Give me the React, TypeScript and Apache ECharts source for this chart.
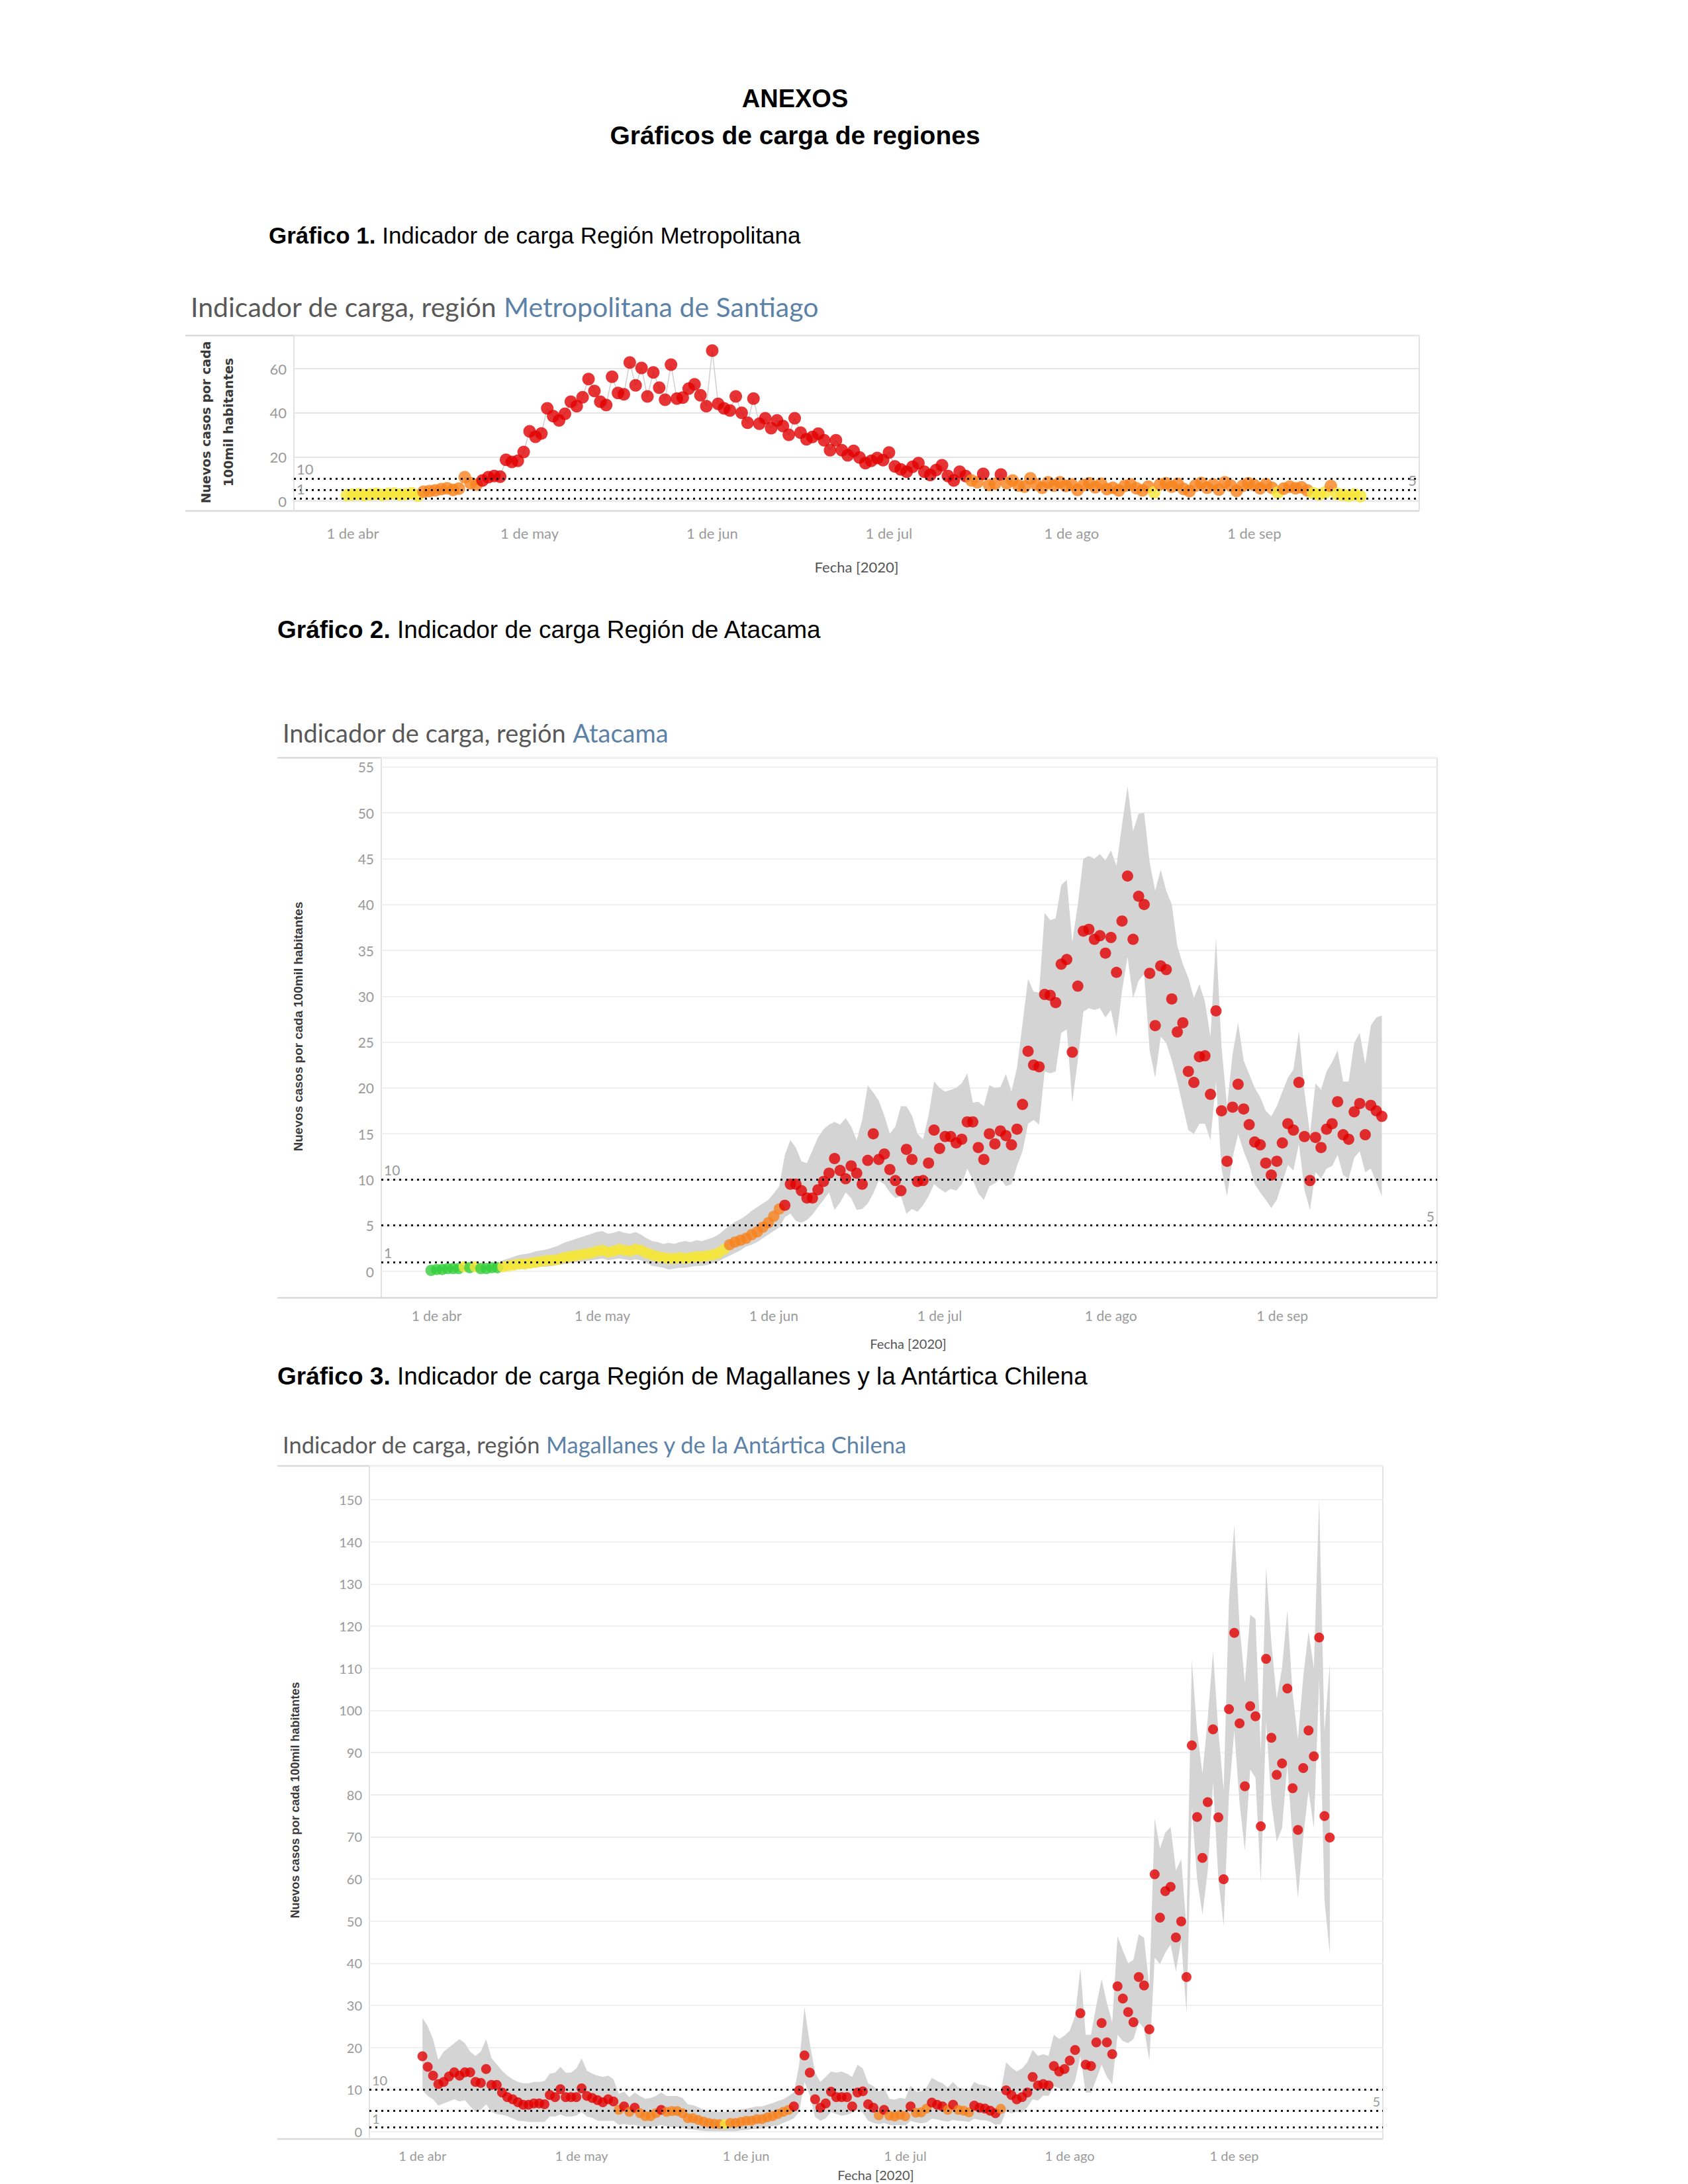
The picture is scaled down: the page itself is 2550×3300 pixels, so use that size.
import React, { useEffect, useRef } from 'react';
import * as echarts from 'echarts';

// ---------- axis categories (days 22 mar .. 29 sep 2020) ----------
const FIRST_DAY = Date.UTC(2020, 2, 22);
const N_DAYS = 192;
const categories: string[] = [];
for (let i = 0; i < N_DAYS; i++) {
  categories.push(new Date(FIRST_DAY + i * 86400000).toISOString().slice(0, 10));
}
const tickDates = ['2020-04-01', '2020-05-01', '2020-06-01', '2020-07-01', '2020-08-01', '2020-09-01'];
const tickLabels = ['1 de abr', '1 de may', '1 de jun', '1 de jul', '1 de ago', '1 de sep'];

// ---------- Gráfico 1: Región Metropolitana (from 31 mar) ----------
const rmStart = '2020-03-31';
const rmValues = [
  2.6, 2.9, 3.1, 2.7, 3.0, 3.3, 2.8, 3.2, 3.4, 2.9,
  3.1, 3.5, 2.4, 4.2, 4.5, 4.8, 5.4, 5.8, 5.0, 5.6,
  10.8, 8.0, 7.4, 9.3, 10.8, 11.3, 11.0, 18.7, 17.7, 18.2,
  22.2, 31.6, 29.1, 30.6, 42.0, 38.5, 36.5, 39.5, 45.0, 43.0,
  47.0, 55.3, 49.9, 45.0, 43.5, 56.3, 49.0, 48.4, 62.8, 52.4,
  60.3, 47.4, 58.3, 51.4, 45.9, 61.8, 46.4, 46.9, 50.9, 52.9,
  47.9, 43.0, 68.2, 44.0, 42.0, 41.0, 47.4, 40.0, 35.5, 46.4,
  35.0, 37.5, 33.0, 36.5, 34.0, 30.0, 37.5, 31.0, 28.0, 29.0,
  30.5, 27.5, 23.0, 27.5, 23.0, 20.7, 22.7, 19.7, 17.2, 18.2,
  19.5, 18.5, 22.0, 15.7, 14.3, 13.3, 15.5, 17.2, 13.3, 11.8,
  14.0, 16.2, 11.3, 9.3, 13.3, 11.3, 9.3, 8.5, 12.3, 7.3,
  7.8, 12.0, 8.0, 9.3, 7.0, 6.5, 10.3, 7.5, 6.0, 8.5,
  7.0, 8.5, 6.8, 7.5, 5.0, 7.2, 8.0, 6.2, 7.8, 5.4,
  6.0, 4.8, 6.8, 7.5, 5.8, 4.8, 6.5, 3.9, 7.5, 8.0,
  6.5, 7.8, 5.5, 4.5, 7.0, 8.2, 6.0, 7.5, 5.2, 8.5,
  7.0, 4.6, 6.8, 8.0, 7.2, 5.8, 7.6, 6.0, 3.8, 5.6,
  6.5, 5.8, 6.2, 4.8, 3.5, 3.0, 3.8, 6.8, 3.2, 2.8,
  2.4, 3.0, 2.2,
];
const rmLevels = [
  'YYYYYYYYYY', 'YYYOOOOOOO', 'OOORRRRRRR', 'RRRRRRRRRR', 'RRRRRRRRRR', 'RRRRRRRRRR',
  'RRRRRRRRRR', 'RRRRRRRRRR', 'RRRRRRRRRR', 'RRRRRRRRRR', 'RRRRRROORO', 'OROOOOOOOO',
  'OOOOOOOOOO', 'OOOOOOOYOO', 'OOOOOOOOOO', 'OOOOOOOOYO', 'OOOOYYYOYY', 'YYY',
].join('');

// ---------- Gráfico 2: Atacama (from 31 mar) ----------
const atStart = '2020-03-31';
const atValues = [
  0.1, 0.2, 0.2, 0.3, 0.3, 0.3, 0.5, 0.4, 0.5, 0.3,
  0.3, 0.4, 0.4, 0.5, 0.6, 0.7, 0.8, 0.8, 0.9, 1.0,
  1.1, 1.2, 1.2, 1.3, 1.5, 1.6, 1.7, 1.8, 1.9, 2.0,
  2.2, 2.3, 2.1, 2.2, 2.4, 2.3, 2.2, 2.4, 2.3, 2.0,
  1.8, 1.6, 1.5, 1.4, 1.4, 1.5, 1.4, 1.5, 1.6, 1.6,
  1.7, 1.8, 2.0, 2.4, 2.9, 3.2, 3.4, 3.6, 4.0, 4.3,
  4.8, 5.3, 6.0, 6.8, 7.2, 9.5, 9.5, 8.8, 8.0, 8.0,
  8.9, 9.8, 10.7, 12.3, 11.0, 10.1, 11.5, 10.7, 9.5, 12.1,
  15.0, 12.2, 12.8, 11.1, 9.9, 8.8, 13.3, 12.2, 9.8, 9.9,
  11.8, 15.4, 13.4, 14.7, 14.7, 14.0, 14.4, 16.3, 16.3, 13.5,
  12.2, 15.0, 13.9, 15.3, 14.8, 13.8, 15.5, 18.2, 24.0, 22.5,
  22.3, 30.2, 30.1, 29.3, 33.5, 34.0, 23.9, 31.1, 37.1, 37.3,
  36.2, 36.6, 34.7, 36.4, 32.6, 38.2, 43.1, 36.2, 40.9, 40.0,
  32.5, 26.8, 33.3, 32.9, 29.7, 26.1, 27.1, 21.8, 20.6, 23.4,
  23.5, 19.3, 28.4, 17.5, 12.0, 17.9, 20.4, 17.7, 16.0, 14.1,
  13.8, 11.8, 10.5, 12.0, 14.0, 16.1, 15.4, 20.6, 14.7, 9.9,
  14.6, 13.5, 15.5, 16.1, 18.5, 14.9, 14.4, 17.4, 18.3, 14.9,
  18.1, 17.5, 16.9,
];
const atUpper = [
  0.4, 0.5, 0.5, 0.6, 0.6, 0.6, 0.8, 0.7, 0.8, 0.6,
  0.6, 0.7, 0.8, 1.2, 1.4, 1.6, 1.8, 1.9, 2.0, 2.2,
  2.3, 2.4, 2.6, 2.8, 3.1, 3.3, 3.5, 3.7, 3.9, 4.1,
  4.3, 4.4, 4.1, 4.2, 4.4, 4.2, 4.1, 4.3, 4.0, 3.6,
  3.3, 3.2, 3.0, 3.1, 3.0, 3.2, 3.3, 3.2, 3.4, 3.3,
  3.5, 3.7, 4.0, 4.5, 5.0, 5.4, 5.7, 6.1, 6.6, 7.0,
  7.4, 7.8, 8.5, 9.3, 12.7, 14.3, 13.5, 12.0, 11.8, 13.2,
  14.6, 15.5, 16.0, 16.3, 16.0, 16.7, 15.8, 14.3, 16.5, 20.3,
  19.5, 18.6, 17.0, 15.0, 15.8, 18.0, 18.0, 17.0, 15.0, 14.4,
  17.0, 20.7, 20.0, 19.6, 19.8, 20.0, 20.5, 21.6, 18.4, 18.5,
  18.0, 20.3, 20.0, 20.1, 21.5, 19.6, 22.2, 27.0, 31.9, 30.5,
  30.4, 39.1, 38.3, 38.5, 42.1, 42.7, 35.9, 40.0, 45.0, 45.3,
  45.0, 45.5, 44.8, 45.9, 44.2, 48.7, 52.9, 48.0, 49.9, 50.0,
  44.6, 41.5, 43.8, 41.5, 40.0, 35.5, 33.5, 32.0, 29.8, 31.3,
  29.4, 25.6, 36.4, 24.5, 18.0, 23.7, 27.1, 23.0, 21.5, 20.0,
  19.0, 17.5, 16.9, 18.0, 19.6, 21.1, 22.0, 26.2, 19.6, 15.0,
  20.5, 19.8, 21.8, 22.8, 24.1, 20.7, 20.7, 24.9, 26.0, 22.6,
  26.8, 27.7, 27.9,
];
const atLower = [
  0, 0, 0, 0.05, 0.05, 0.05, 0.2, 0.1, 0.2, 0.05,
  0.05, 0.1, 0.1, 0.1, 0.2, 0.2, 0.3, 0.3, 0.4, 0.4,
  0.5, 0.5, 0.6, 0.7, 0.8, 0.9, 1.0, 1.0, 1.1, 1.2,
  1.3, 1.4, 1.2, 1.3, 1.4, 1.3, 1.2, 1.3, 1.2, 0.9,
  0.6, 0.5, 0.4, 0.2, 0.3, 0.4, 0.4, 0.5, 0.6, 0.6,
  0.7, 0.9, 1.1, 1.4, 1.7, 2.0, 2.3, 2.7, 2.9, 3.2,
  3.6, 4.0, 4.4, 4.8, 5.9, 6.3, 5.5, 5.3, 5.6, 6.2,
  7.0, 7.8, 8.6, 6.7, 7.5, 8.6, 8.0, 6.7, 6.8, 7.4,
  8.5, 9.9, 9.5, 8.6, 8.0, 8.2, 6.3, 6.8, 6.5, 7.2,
  8.2, 9.5, 9.0, 8.6, 9.0, 8.8, 9.5, 11.2, 10.0, 8.5,
  7.8, 9.3, 9.6, 10.1, 9.3, 9.5, 11.5, 13.1, 16.1, 16.5,
  16.0, 21.8, 21.6, 21.8, 26.0, 26.4, 18.4, 23.0, 28.3, 28.7,
  28.5, 28.7, 27.7, 28.5, 25.6, 30.6, 34.3, 29.8, 31.7, 32.4,
  24.1, 21.1, 25.6, 24.9, 23.0, 20.7, 18.0, 15.4, 15.0, 16.1,
  16.1, 14.3, 20.7, 11.2, 8.2, 12.4, 15.0, 13.1, 11.6, 9.5,
  8.6, 7.8, 6.9, 7.8, 9.7, 11.6, 11.0, 13.9, 8.9, 6.7,
  10.8, 10.1, 11.2, 11.5, 12.7, 10.5, 10.1, 12.4, 13.1, 10.8,
  11.2, 9.7, 8.2,
];
const atLevels = [
  'GGGGGGYGYG', 'GGGYYYYYYY', 'YYYYYYYYYY', 'YYYYYYYYYY', 'YYYYYYYYYY', 'YYYYOOOOOO',
  'OOOORRRRRR', 'RRRRRRRRRR', 'RRRRRRRRRR', 'RRRRRRRRRR', 'RRRRRRRRRR', 'RRRRRRRRRR',
  'RRRRRRRRRR', 'RRRRRRRRRR', 'RRRRRRRRRR', 'RRRRRRRRRR', 'RRRRRRRRRR', 'RRR',
].join('');

// ---------- Gráfico 3: Magallanes (from 1 abr) ----------
const maStart = '2020-04-01';
const maValues = [
  17.9, 15.4, 13.3, 11.3, 11.8, 13.1, 14.1, 13.3, 14.1, 14.1,
  11.8, 11.6, 14.9, 11.1, 11.1, 9.3, 8.2, 7.7, 7.0, 6.4,
  6.4, 6.7, 6.7, 6.5, 8.7, 8.2, 10.1, 8.2, 8.2, 8.2,
  10.3, 8.5, 8.0, 7.5, 7.0, 7.7, 7.2, 5.2, 6.0, 4.7,
  5.7, 4.4, 3.7, 3.7, 4.4, 5.2, 4.7, 4.9, 4.9, 4.4,
  3.2, 3.2, 2.8, 2.4, 2.1, 1.9, 1.8, 1.8, 2.1, 2.1,
  2.3, 2.6, 2.6, 3.0, 3.0, 3.4, 3.7, 4.2, 4.7, 5.2,
  6.0, 9.8, 18.1, 14.0, 7.7, 5.7, 6.7, 9.5, 8.2, 8.2,
  8.2, 6.0, 9.3, 9.6, 6.5, 5.7, 3.9, 5.2, 3.8, 3.6,
  4.0, 3.7, 6.0, 4.5, 4.6, 5.5, 6.9, 6.4, 6.0, 5.2,
  6.4, 5.2, 5.0, 4.6, 6.2, 5.7, 5.5, 5.0, 4.4, 5.4,
  9.8, 8.7, 7.7, 8.2, 9.3, 13.0, 11.0, 11.3, 11.0, 15.6,
  14.3, 14.9, 16.9, 19.4, 28.1, 15.9, 15.6, 21.2, 25.8, 21.2,
  18.4, 34.5, 31.6, 28.4, 26.0, 36.7, 34.7, 24.3, 61.1, 50.8,
  57.1, 58.1, 46.1, 49.9, 36.7, 91.7, 74.7, 65.0, 78.2, 95.5,
  74.6, 59.9, 100.3, 118.4, 96.9, 82.0, 101.0, 98.6, 72.5, 112.2,
  93.5, 84.7, 87.4, 105.2, 81.5, 71.6, 86.3, 95.2, 89.1, 117.3,
  74.9, 69.8,
];
const maUpper = [
  27, 25, 22, 17, 19, 20, 21, 22, 21, 19,
  18, 19, 22, 17.5, 16, 14.5, 13.3, 12.5, 11.8, 11.5,
  11.5, 11.8, 11.8, 12, 13.8, 14, 15.4, 14, 14, 15,
  17.4, 14.5, 13.8, 13.3, 13, 13.3, 12.5, 9, 9.5, 8.2,
  9.3, 8.5, 7.8, 8.0, 8.5, 9.3, 8.5, 8.5, 8.5, 8,
  6.5, 6.3, 5.8, 5.2, 4.9, 4.8, 4.7, 4.7, 4.9, 5.0,
  5.3, 5.5, 5.7, 6.0, 6.0, 6.4, 6.8, 7.3, 7.7, 8.5,
  9.3, 15.9, 29.6, 21, 14, 11.8, 13, 14.3, 14, 14.3,
  13.8, 13, 15.9, 15, 11.5, 10.8, 9.5, 10.5, 7.8, 7.6,
  8.0, 7.8, 11.0, 9.5, 9.6, 10.5, 12.8, 12.0, 11.5, 10.5,
  11.8, 10.5, 10.2, 9.8, 11.8, 11.2, 11.0, 10.5, 9.8, 9.5,
  16.5, 15.2, 14.3, 15.0, 16.5, 19.4, 18, 18.4, 18, 23,
  22, 22.8, 24, 27.5, 38.8, 23, 23, 30, 36.2, 30.5,
  26, 46.4, 43, 40, 40.8, 46.9, 46, 34.2, 74.4, 67.2,
  71, 72.3, 62, 64.7, 48.4, 112, 95, 85, 98, 114,
  95, 81, 126, 144, 120, 106.4, 122.7, 121.7, 90, 133.9,
  116, 102.8, 110, 123.7, 104, 93.2, 108, 118.6, 110, 150.2,
  95, 111,
];
const maLower = [
  9.8, 8.5, 7.7, 6.2, 6.7, 7.2, 7.7, 7.2, 7.5, 6.0,
  4.7, 5.2, 6.5, 4.7, 4.2, 4.0, 3.7, 3.2, 2.6, 2.5,
  2.3, 2.3, 2.3, 2.3, 3.6, 3.6, 4.1, 3.6, 3.6, 3.8,
  4.7, 3.6, 3.3, 2.6, 2.6, 2.6, 2.6, 1.6, 1.8, 1.6,
  1.6, 1.3, 1.1, 1.1, 1.3, 1.6, 1.3, 1.1, 1.1, 0.9,
  0.6, 0.5, 0.3, 0.2, 0.1, 0.1, 0.1, 0.1, 0.1, 0.1,
  0.3, 0.4, 0.6, 0.7, 0.8, 1.1, 1.3, 1.5, 2.1, 2.6,
  3.2, 4.7, 11.8, 8.7, 3.5, 2.6, 3.2, 4.7, 4.2, 3.8,
  4.0, 4.5, 5.2, 4.5, 2.6, 2.1, 1.8, 2.1, 1.6, 1.5,
  1.6, 1.5, 2.6, 2.2, 2.0, 2.2, 3.1, 2.9, 2.6, 2.4,
  2.8, 2.6, 2.5, 2.3, 3.1, 2.8, 2.7, 2.4, 1.6, 1.8,
  4.9, 4.4, 4.7, 4.5, 5.8, 7.7, 7.4, 8.6, 8.5, 10.8,
  10.3, 9.9, 9.6, 12.0, 17.9, 9.3, 9.3, 12.5, 15.9, 13.0,
  11.3, 23, 21.5, 21.0, 22, 26, 24.5, 16.9, 41.3, 39.8,
  42.5, 44.4, 38, 45.4, 28.1, 76.9, 60, 51.5, 62, 83,
  60, 48.9, 80, 95.2, 78, 66.7, 86, 84, 59, 97.3,
  78, 68.8, 72, 87, 69, 55.5, 70, 81, 72, 107.4,
  55, 42.3,
];
const maLevels = [
  'RRRRRRRRRR', 'RRRRRRRRRR', 'RRRRRRRRRR', 'RRRRRRRORO', 'ROOOOROOOO', 'OOOOOOOYOO',
  'OOOOOOOOOO', 'RRRRRRRRRR', 'RRRRRROROO', 'OOROOORRRO', 'ROOORRRRRO',
  'RRRRRRRRRR', 'RRRRRRRRRR', 'RRRRRRRRRR', 'RRRRRRRRRR', 'RRRRRRRRRR', 'RRRRRRRRRR', 'RR',
].join('');

// threshold lines
const thresholds = [10, 5, 1];

const LEVEL_COLOR: Record<string, string> = {
  R: '#e10000',
  O: '#f7821d',
  Y: '#f6e636',
  G: '#35d03c',
};

const FONT_T = 'Lato, "Open Sans", sans-serif';
const FONT_DOC = '"Liberation Sans", Arial, sans-serif';

function fullArray(start: string, vals: number[]): (number | string)[] {
  const out: (number | string)[] = categories.map(() => '-');
  const s = categories.indexOf(start);
  vals.forEach((v, i) => {
    if (s + i < out.length) out[s + i] = v;
  });
  return out;
}

type ChartCfg = {
  start: string;
  values: number[];
  levels: string;
  upper?: number[];
  lower?: number[];
  symbolSize: number;
  connector?: boolean;
  labelSize: number;
  threshLabelSize: number;
};

function buildSeries(idx: number, cfg: ChartCfg): any[] {
  const series: any[] = [];
  const s = categories.indexOf(cfg.start);
  if (cfg.upper && cfg.lower) {
    const lo = cfg.lower;
    const diff = cfg.upper.map((u, i) => +(u - lo[i]).toFixed(2));
    series.push({
      type: 'line',
      xAxisIndex: idx,
      yAxisIndex: idx,
      data: fullArray(cfg.start, lo),
      stack: 'band' + idx,
      symbol: 'none',
      lineStyle: { width: 0, opacity: 0 },
      silent: true,
      z: 1,
    });
    series.push({
      type: 'line',
      xAxisIndex: idx,
      yAxisIndex: idx,
      data: fullArray(cfg.start, diff),
      stack: 'band' + idx,
      symbol: 'none',
      lineStyle: { width: 0, opacity: 0 },
      areaStyle: { color: '#d4d4d4', opacity: 1 },
      silent: true,
      z: 1,
    });
  }
  if (cfg.connector) {
    series.push({
      type: 'line',
      xAxisIndex: idx,
      yAxisIndex: idx,
      data: fullArray(cfg.start, cfg.values),
      symbol: 'none',
      lineStyle: { color: '#cfcfcf', width: 1.5 },
      silent: true,
      z: 2,
    });
  }
  series.push({
    type: 'scatter',
    xAxisIndex: idx,
    yAxisIndex: idx,
    symbol: 'circle',
    symbolSize: cfg.symbolSize,
    data: cfg.values.map((v, i) => {
      const lv = cfg.levels[i] || (v >= 10 ? 'R' : v >= 5 ? 'O' : v >= 1 ? 'Y' : 'G');
      return { value: [s + i, v], itemStyle: { color: LEVEL_COLOR[lv] } };
    }),
    silent: true,
    z: 3,
  });
  series.push({
    type: 'line',
    xAxisIndex: idx,
    yAxisIndex: idx,
    data: [],
    z: 6,
    markLine: {
      silent: true,
      symbol: ['none', 'none'],
      animation: false,
      lineStyle: { color: '#161616', width: 3, type: [3, 6] },
      label: { color: '#9a9a9a', fontSize: cfg.threshLabelSize, fontFamily: FONT_T, distance: 4 },
      data: thresholds.map((t) => ({
        yAxis: t,
        label: { formatter: String(t), position: t === 5 ? 'insideEndTop' : 'insideStartTop' },
      })),
    },
  });
  return series;
}

const charts: ChartCfg[] = [
  { start: rmStart, values: rmValues, levels: rmLevels, symbolSize: 19, connector: true, labelSize: 22, threshLabelSize: 22 },
  { start: atStart, values: atValues, levels: atLevels, upper: atUpper, lower: atLower, symbolSize: 17, labelSize: 21, threshLabelSize: 21 },
  { start: maStart, values: maValues, levels: maLevels, upper: maUpper, lower: maLower, symbolSize: 15, labelSize: 20, threshLabelSize: 20 },
];

const grids = [
  { left: 444, top: 507, width: 1700, height: 250 },
  { left: 576, top: 1145, width: 1595, height: 776 },
  { left: 558, top: 2215, width: 1531, height: 1006 },
];
const yMax = [75, 56, 158];
const yInterval = [20, 5, 10];
const xLabelMargin = [37, 56, 26];
const gridLineColor = ['#e6e6e6', '#efefef', '#f0f0f0'];

function boxLines(top: number, bottom: number, outerLeft: number, plotLeft: number, right: number) {
  const st = { stroke: '#d9d9d9', lineWidth: 2.5 };
  return [
    { type: 'line', shape: { x1: outerLeft, y1: top, x2: right, y2: top }, style: st, silent: true },
    { type: 'line', shape: { x1: outerLeft, y1: bottom, x2: right, y2: bottom }, style: st, silent: true },
    { type: 'line', shape: { x1: plotLeft, y1: top, x2: plotLeft, y2: bottom }, style: { stroke: '#e2e2e2', lineWidth: 2 }, silent: true },
    { type: 'line', shape: { x1: right, y1: top, x2: right, y2: bottom }, style: { stroke: '#e2e2e2', lineWidth: 2 }, silent: true },
  ];
}

function txt(x: number, y: number, text: string, opts: any = {}) {
  return {
    type: 'text',
    x,
    y,
    rotation: opts.rotation || 0,
    silent: true,
    z: 20,
    style: {
      text,
      fontSize: opts.size || 20,
      fontFamily: opts.family || FONT_T,
      fontWeight: opts.weight || 'normal',
      fill: opts.color || '#333',
      textAlign: opts.align || 'left',
      textVerticalAlign: 'middle',
      lineHeight: opts.lineHeight,
      rich: opts.rich,
    },
  };
}

function titleText(x: number, y: number, region: string, size: number) {
  return txt(x, y, '{a|Indicador de carga, región }{b|' + region + '}', {
    size,
    rich: {
      a: { fontSize: size, fontFamily: FONT_T, fill: '#595959', color: '#595959' },
      b: { fontSize: size, fontFamily: FONT_T, fill: '#5d82a8', color: '#5d82a8' },
    },
  });
}

function docCaption(x: number, y: number, num: string, rest: string, size: number) {
  return txt(x, y, '{a|Gráfico ' + num + '.}{b| ' + rest + '}', {
    size,
    family: FONT_DOC,
    rich: {
      a: { fontSize: size, fontFamily: FONT_DOC, fontWeight: 'bold', fill: '#000', color: '#000' },
      b: { fontSize: size, fontFamily: FONT_DOC, fill: '#000', color: '#000' },
    },
  });
}

export default function App() {
  const ref = useRef<HTMLDivElement>(null);
  useEffect(() => {
    if (!ref.current) return;
    const chart = echarts.init(ref.current, undefined, { renderer: 'svg' });

    const series: any[] = [];
    charts.forEach((c, i) => series.push(...buildSeries(i, c)));

    const graphic: any[] = [
      txt(1201, 149, 'ANEXOS', { size: 38, family: FONT_DOC, weight: 'bold', color: '#000', align: 'center' }),
      txt(1201, 204, 'Gráficos de carga de regiones', { size: 39, family: FONT_DOC, weight: 'bold', color: '#000', align: 'center' }),
      docCaption(406, 355, '1', 'Indicador de carga Región Metropolitana', 35),
      docCaption(419, 951, '2', 'Indicador de carga Región de Atacama', 37),
      docCaption(419, 2079, '3', 'Indicador de carga Región de Magallanes y la Antártica Chilena', 37),
      titleText(288, 463, 'Metropolitana de Santiago', 41),
      titleText(427, 1107, 'Atacama', 38),
      titleText(427, 2182, 'Magallanes y de la Antártica Chilena', 34.5),
      ...boxLines(507, 772, 280, 444, 2144),
      ...boxLines(1145, 1961, 419, 576, 2171),
      ...boxLines(2215, 3232, 419, 558, 2089),
      txt(328, 638, 'Nuevos casos por cada\n100mil habitantes', {
        size: 19, family: '"DejaVu Sans", sans-serif', weight: 'bold', color: '#3a3a3a',
        align: 'center', rotation: Math.PI / 2, lineHeight: 34,
      }),
      txt(450, 1551, 'Nuevos casos por cada 100mil habitantes', {
        size: 19, family: FONT_DOC, weight: 'bold', color: '#3a3a3a', align: 'center', rotation: Math.PI / 2,
      }),
      txt(446, 2720, 'Nuevos casos por cada 100mil habitantes', {
        size: 18, family: FONT_DOC, weight: 'bold', color: '#3a3a3a', align: 'center', rotation: Math.PI / 2,
      }),
      txt(1294, 856, 'Fecha [2020]', { size: 22, color: '#555', align: 'center' }),
      txt(1372, 2030, 'Fecha [2020]', { size: 20, color: '#555', align: 'center' }),
      txt(1323, 3286, 'Fecha [2020]', { size: 20, color: '#555', align: 'center' }),
    ];

    chart.setOption({
      animation: false,
      backgroundColor: '#ffffff',
      grid: grids.map((g) => ({ ...g, containLabel: false })),
      xAxis: grids.map((_, i) => ({
        type: 'category',
        gridIndex: i,
        data: categories,
        boundaryGap: false,
        axisLine: { show: false },
        axisTick: { show: false },
        splitLine: { show: false },
        axisLabel: {
          interval: (_idx: number, val: string) => tickDates.includes(val),
          formatter: (val: string) => {
            const k = tickDates.indexOf(val);
            return k >= 0 ? tickLabels[k] : '';
          },
          color: '#9a9a9a',
          fontSize: charts[i].labelSize,
          fontFamily: FONT_T,
          margin: xLabelMargin[i],
        },
      })),
      yAxis: grids.map((_, i) => ({
        type: 'value',
        gridIndex: i,
        min: 0,
        max: yMax[i],
        interval: yInterval[i],
        axisLine: { show: false },
        axisTick: { show: false },
        splitLine: { show: true, lineStyle: { color: gridLineColor[i], width: 2 } },
        axisLabel: {
          showMaxLabel: false,
          color: '#9a9a9a',
          fontSize: charts[i].labelSize,
          fontFamily: FONT_T,
          margin: 11,
        },
      })),
      series,
      graphic,
    });

    return () => chart.dispose();
  }, []);

  return (
    <div
      ref={ref}
      style={{ position: 'absolute', left: 0, top: 0, width: 2550, height: 3300, background: '#fff' }}
    />
  );
}
